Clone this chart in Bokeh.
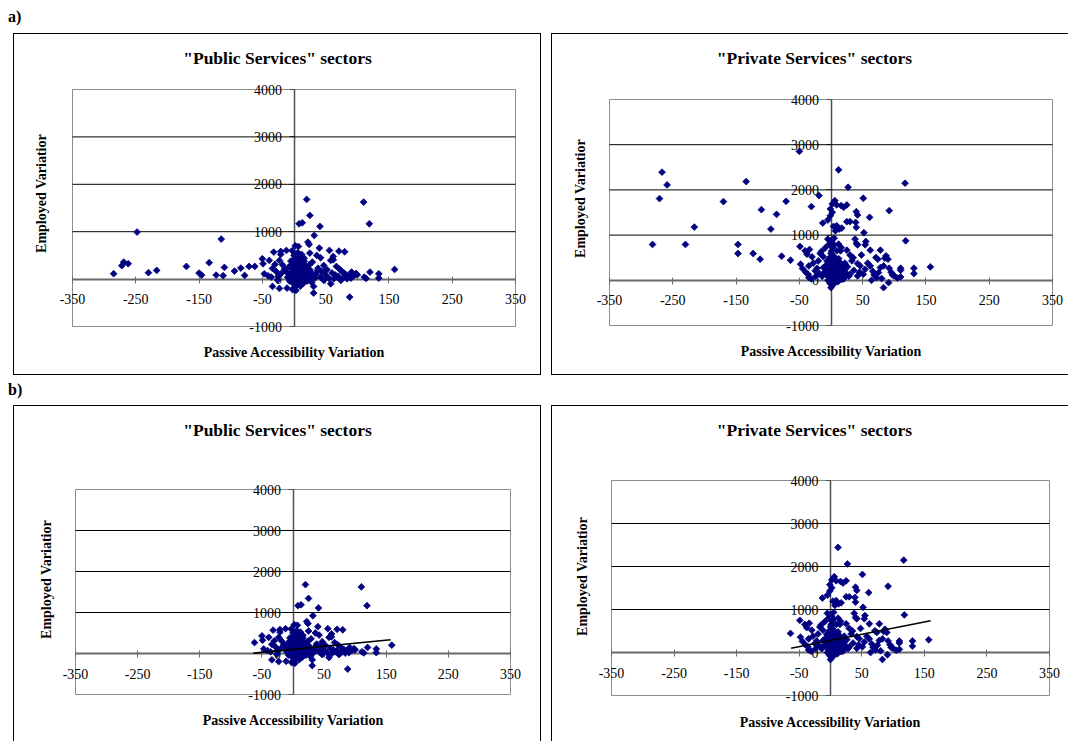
import numpy as np
from bokeh.plotting import figure
from bokeh.models import Range1d, FixedTicker, Label, Div, Spacer
from bokeh.layouts import column, row
from bokeh.embed import file_html
from bokeh.resources import INLINE

FONT = "Liberation Serif"
NAVY = "#000080"

# ---------------- data ----------------
x_min, x_max = -350, 350
y_min, y_max = -1000, 4000
x_ticks = [-350, -250, -150, -50, 50, 150, 250, 350]
y_ticks = [-1000, 0, 1000, 2000, 3000, 4000]
grid_ticks = [1000, 2000, 3000]

title_pub = '"Public Services" sectors'
title_priv = '"Private Services" sectors'
x_label = "Passive Accessibility Variation"
y_label = "Employed Variatior"

# "Public Services" sectors (panel a, all points)
pub_x = [
    -285, -272, -269, -262, -248, -230, -217, -170, -150, -146, -134, -123, -115, -112, -110, -94, -84, -78, -71, -62,
    20, 110, 25, 8, 13, 119, 41, 32, 22, 24, 2, 7, 40, 56, -32, -21, -21, -12, 25, 36,
    62, 71, 80, 42, 58, 62, -50, -39, -49, -23, -34, -1, 11, 29, 47, 67, 75, -47, -41, -36,
    -34, -23, -11, -2, 3, 31, 31, 88, 47, 58, 79, 84, 91, 95, 100, 111, 114, 120, 134, 134,
    159, 25, 37, 17, 42, 63, 68, 74,
    0, 5, 10, -5, 2, 8, 14, 18, -8, -3, 4, 9, 15, 20, 24, -12, -6, 1, 6, 12,
    17, 22, 27, -10, -4, 3, 8, 13, 19, 26, 30, -2, 5, 10, 0, -7, 15, 21, 28, 33,
    35, 38, 44, 50, 52, 55, 60, 65, 70, 72, 78, 82, 86, 90, 98, -18, -15, -20, -25, -28,
    -30, -26, 6, 12, -3, 16, 1, 7, 11, 4,
    3, 6, 9, 12, 2, -1, 5, 9, 14, 18, 11, 7, -4, 0, 16, 21, 24, 13, 4, 8,
]
pub_y = [
    114, 283, 359, 325, 992, 135, 184, 268, 127, 84, 346, 84, 844, 72, 247, 169, 232, 77, 267, 267,
    1680, 1624, 1343, 1167, 1188, 1167, 1111, 921, 780, 731, 703, 689, 654, 605, 570, 584, 520, 605, 549, 500,
    478, 590, 577, 450, 394, 408, 429, 394, 323, 394, 225, 380, 253, 359, 288, 267, 169, 112, 70, 42,
    -155, -197, -190, -225, -239, -155, -295, -380, -28, -98, 127, 7, 148, 77, 91, 42, 14, 148, 112, 21,
    204, 197, 183, 42, 42, 7, 42, -28,
    500, 450, 420, 380, 330, 300, 350, 280, 260, 220, 200, 180, 160, 230, 300, 150, 120, 100, 80, 60,
    110, 90, 140, 40, 20, 0, -30, -60, 10, 30, 80, -80, -120, -150, -180, -40, -90, -40, -70, 20,
    110, 230, 160, 90, 200, 20, 130, 90, 60, 210, 30, 95, 60, 20, 120, 300, 210, 120, 60, 160,
    310, -20, 560, 520, 600, 440, 260, 240, 390, 150,
    350, 280, 230, 330, 150, 60, 30, 120, 250, 180, 10, -80, 300, 420, 380, 160, 60, 200, 250, 380,
]

# "Private Services" sectors (panel a, all points)
priv_x = [
    -267, -259, -271, -282, -230, -216, -170, -134, -147, -147, -123, -112, -110, -95, -86, -78, -71, -64, -50, -49,
    -48, -31, -19, -13,
    12, 27, 51, 2, 6, -1, 2, -1, -5, 9, 16, 20, 25, 40, 42, 61, 92, 117, 118, 52,
    25, 30, 39, 40, 9, 13, 17, 4, 7, -5, -1, 5, 38, 40, 42, 55, 54, 62, 25, 15,
    78, 71, 74, 87, 85, 90, 83, 78, 92, 110, 110, 97, 110, 131, 131, 157, 83, 91, 64, 72,
    51, 42, 30, 17, 0, -1, -12, -22, -35, -36, -35, -41, -38, -34, -30, -17, -12, 9, 16, 12,
    2, 33, 42, 46, 62, 54, 22,
    0, 3, 6, -3, 10, 14, -6, 1, 5, -8, 8, 12, 18, 22, 26, -4, 0, 4, 9, 14,
    19, 24, 28, -10, -7, -2, 3, 7, 11, 15, 20, -5, -1, 2, 6, -14, -18, -25, -28, -20,
    -15, -9, -3, 1, 5, 30, 35, 36, 45, 48, 58, 66, 68, 75, 80, 95, 100, 105, -40, -45,
    -24, -31,
    2, 5, 8, 11, -2, 0, 4, 10, 13, 17, -3, 1, 7, 12, 16, 21, -6, 3, 9, -1,
]
priv_y = [
    2393, 2111, 1807, 793, 793, 1178, 1741, 2185, 793, 593, 593, 467, 1563, 1133, 1459, 533, 1748, 444, 2852, 748,
    356, 1630, 1874, 1267,
    2444, 2059, 1815, 1689, 1763, 1578, 1504, 1430, 1333, 1667, 1652, 1615, 1667, 1519, 1444, 1393, 1541, 2148, 874, 1052,
    1296, 1296, 1281, 1170, 1207, 1133, 1156, 1193, 1096, 911, 874, 933, 911, 815, 785, 859, 785, 667, 667, 652,
    667, 504, 467, 541, 489, 467, 318, 281, 267, 267, 222, 119, 74, 267, 148, 296, -163, -52, 0, 59,
    133, 96, 133, 22, -163, -74, 281, 267, 318, 133, 59, 652, 578, 681, 519, 593, 519, 652, 726, 800,
    726, 430, 370, 318, 318, 244, 244,
    600, 550, 500, 470, 440, 400, 420, 380, 340, 330, 300, 260, 320, 380, 300, 250, 210, 180, 150, 120,
    190, 160, 90, 180, 120, 80, 40, 10, -30, 60, 30, 0, -40, -110, -60, 90, 150, 210, 380, 430,
    640, 720, 800, 850, 780, 560, 500, 220, 180, 560, 380, 200, 120, 170, 40, 180, 100, 50, 180, 260,
    90, 30,
    450, 280, 200, 350, 300, 120, 60, 90, 230, 130, 160, 650, 420, 480, 250, 100, 210, -20, 30, 520,
]

# linear trend lines of panel b (end points)
pub_trend_x = [-64, 157]
pub_trend_y = [8, 336]
priv_trend_x = [-63, 160]
priv_trend_y = [100, 740]

# panel b keeps the sectors without the extreme accessibility losses
b_min_x = -66


def reduced(xs, ys):
    kx, ky = [], []
    for x, y in zip(xs, ys):
        if x >= b_min_x and not (x < -10 and y > 1500):
            kx.append(x)
            ky.append(y)
    return kx, ky


def panel(xs, ys, title, W, H, ml, mr, mt, mb, tpos, xlpos, ylpos, shadow, trend=None):
    # plot area occupies [ml, W-mr] x [mt, H-mb]; the frame covers the whole panel
    fw = W - ml - mr
    fh = H - mt - mb
    sx = (x_max - x_min) / fw
    sy = (y_max - y_min) / fh
    xr = Range1d(x_min - ml * sx, x_max + mr * sx)
    yr = Range1d(y_min - mb * sy, y_max + mt * sy)
    p = figure(width=W, height=H, x_range=xr, y_range=yr,
               output_backend="svg", toolbar_location=None, title=None,
               min_border_left=0, min_border_right=0, min_border_top=0, min_border_bottom=0)
    p.border_fill_color = None
    p.background_fill_color = None
    p.outline_line_color = None
    p.styles = {"box-shadow": shadow}
    p.xgrid.visible = False
    p.ygrid.visible = False

    # plot area: white fill, grey border, black horizontal gridlines
    p.quad(left=[x_min], right=[x_max], bottom=[y_min], top=[y_max],
           fill_color="white", line_color="#8c8c8c", line_width=1, level="underlay")
    p.segment(x0=[x_min] * len(grid_ticks), x1=[x_max] * len(grid_ticks),
              y0=grid_ticks, y1=grid_ticks, line_color="black", line_width=1)

    xa = p.xaxis[0]
    ya = p.yaxis[0]
    xa.fixed_location = 0
    ya.fixed_location = 0
    xa.bounds = (x_min, x_max)
    ya.bounds = (y_min, y_max)
    xa.ticker = FixedTicker(ticks=x_ticks)
    ya.ticker = FixedTicker(ticks=y_ticks)
    xa.major_label_overrides = {t: str(t) for t in x_ticks}
    ya.major_label_overrides = {t: str(t) for t in y_ticks}
    for ax in (xa, ya):
        ax.level = "underlay"
        ax.minor_tick_line_color = None
        ax.major_label_text_font = FONT
        ax.major_label_text_font_size = "14px"
        ax.major_label_text_color = "black"
    xa.axis_line_color = "#6a6a6a"
    xa.axis_line_width = 2
    xa.major_tick_line_color = "#6a6a6a"
    xa.major_tick_line_width = 1
    xa.major_tick_in = 3
    xa.major_tick_out = 4
    xa.major_label_standoff = 11
    ya.axis_line_color = "#505050"
    ya.axis_line_width = 1.5
    ya.major_tick_line_color = "#505050"
    ya.major_tick_in = 0
    ya.major_tick_out = 5
    ya.major_label_standoff = 7

    p.scatter(xs, ys, marker="square", angle=np.pi / 4, size=4.8,
              fill_color=NAVY, line_color=NAVY, line_width=0.8)
    if trend is not None:
        p.line(trend[0], trend[1], line_color="black", line_width=1.6)

    p.add_layout(Label(x=ml + tpos[0], y=mb + tpos[1], x_units="screen", y_units="screen", text=title,
                       text_font=FONT, text_font_size="17.5px", text_font_style="bold",
                       text_align="center", text_baseline="middle", text_color="black"))
    p.add_layout(Label(x=ml + xlpos[0], y=mb + xlpos[1], x_units="screen", y_units="screen", text=x_label,
                       text_font=FONT, text_font_size="14px", text_font_style="bold",
                       text_align="center", text_baseline="middle", text_color="black"))
    p.add_layout(Label(x=ml + ylpos[0], y=mb + ylpos[1], x_units="screen", y_units="screen", text=y_label,
                       angle=np.pi / 2, text_font=FONT, text_font_size="14px", text_font_style="bold",
                       text_align="center", text_baseline="middle", text_color="black"))
    return p


BOX_FULL = "inset 0 0 0 1px #000"
BOX_NO_RIGHT = "inset 1px 0 0 0 #000, inset 0 1px 0 0 #000, inset 0 -1px 0 0 #000"
BOX_NO_BOTTOM = "inset 1px 0 0 0 #000, inset 0 1px 0 0 #000, inset -1px 0 0 0 #000"
BOX_TOP_LEFT = "inset 1px 0 0 0 #000, inset 0 1px 0 0 #000"

p1 = panel(pub_x, pub_y, title_pub, 528, 342, 59, 26, 56, 49,
           (205, 269), (222, -26), (-31, 133), BOX_FULL)
p2 = panel(priv_x, priv_y, title_priv, 517, 342, 58, 16, 66, 50,
           (205, 268), (222, -26), (-29, 127), BOX_NO_RIGHT)

pbx, pby = reduced(pub_x, pub_y)
qbx, qby = reduced(priv_x, priv_y)
p3 = panel(pbx, pby, title_pub, 528, 336, 62, 31, 84, 47,
           (202, 265), (218, -26), (-29, 115), BOX_NO_BOTTOM, (pub_trend_x, pub_trend_y))
p4 = panel(qbx, qby, title_priv, 517, 336, 60, 19, 75, 46,
           (203, 266), (219, -27), (-29, 119), BOX_TOP_LEFT, (priv_trend_x, priv_trend_y))


def tag(text, h, pad):
    return Div(text=('<div style="font-family: \'Liberation Serif\'; font-weight: bold; font-size: 16px; '
                     'line-height: 18px; margin: 0; padding-left: 8px; padding-top: %dpx; color: black;">%s</div>'
                     % (pad, text)),
               width=60, height=h, margin=(0, 0, 0, 0))


layout = column(
    tag("a)", 33, 8),
    row(Spacer(width=13, height=342), p1, Spacer(width=10, height=342), p2),
    tag("b)", 30, 6),
    row(Spacer(width=13, height=336), p3, Spacer(width=10, height=336), p4),
)

open("out.html", "w").write(file_html(layout, INLINE))
